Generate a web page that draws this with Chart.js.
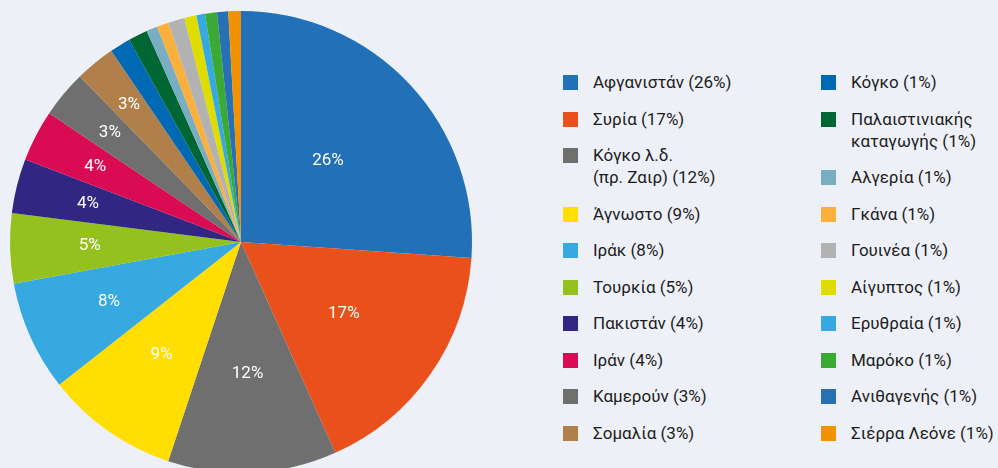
<!DOCTYPE html>
<html>
<head>
<meta charset="utf-8">
<script src="https://cdn.jsdelivr.net/npm/chart.js@4.4.0/dist/chart.umd.min.js"></script>
<style>
  html, body { margin: 0; padding: 0; background: #eef0f8; overflow: hidden; }
  body { width: 998px; height: 468px; position: relative; font-family: Roboto, sans-serif; }
  #pieWrap { position: absolute; left: 0; top: 0; width: 482px; height: 484px; }
  .col { position: absolute; top: 71px; display: flex; flex-direction: column; gap: 14.5px; }
  .item { position: relative; padding-left: 30px; font-size: 17px; line-height: 22px; color: #1d1d1b; white-space: pre; }
  .item .box { position: absolute; left: 0; top: 4px; width: 15px; height: 15px; }
</style>
</head>
<body>
<div id="pieWrap"><canvas id="myChart"></canvas></div>
<div class="col" id="legend1" style="left:563px"></div>
<div class="col" id="legend2" style="left:821px"></div>
<script>
var countries = ['Αφγανιστάν', 'Συρία', 'Κόγκο λ.δ.\n(πρ. Ζαιρ)', 'Άγνωστο', 'Ιράκ', 'Τουρκία', 'Πακιστάν', 'Ιράν', 'Καμερούν', 'Σομαλία',
  'Κόγκο', 'Παλαιστινιακής\nκαταγωγής', 'Αλγερία', 'Γκάνα', 'Γουινέα', 'Αίγυπτος', 'Ερυθραία', 'Μαρόκο', 'Ανιθαγενής', 'Σιέρρα Λεόνε'];
var shares = [26.1, 17.2, 11.8, 9.3, 7.7, 4.9, 3.8, 3.6, 3.3, 2.8,
  1.45, 1.35, 0.78, 0.82, 1.15, 0.85, 0.6, 0.83, 0.78, 0.88];
var colors = ['#2270b8', '#e9501c', '#6f6f6f', '#ffde00', '#36a9e1', '#95c11f', '#312783', '#d90b52', '#6f6f6f', '#b07f4a',
  '#0069b4', '#006633', '#79adc1', '#fbb03b', '#b2b2b2', '#dedc00', '#36a9e1', '#3aaa35', '#2870b4', '#f39200'];

// legend (two columns of ten)
countries.forEach(function(name, i) {
  var el = document.createElement('div');
  el.className = 'item';
  el.innerHTML = '<span class="box" style="background:' + colors[i] + '"></span>';
  el.appendChild(document.createTextNode(name + ' (' + Math.round(shares[i]) + '%)'));
  document.getElementById(i < 10 ? 'legend1' : 'legend2').appendChild(el);
});

// percentage labels inside the bigger slices
var sliceLabels = {
  id: 'sliceLabels',
  afterDatasetsDraw: function(chart) {
    var ctx = chart.ctx;
    var meta = chart.getDatasetMeta(0);
    ctx.save();
    ctx.fillStyle = '#ffffff';
    ctx.font = '17px Roboto, sans-serif';
    ctx.textAlign = 'center';
    ctx.textBaseline = 'middle';
    meta.data.forEach(function(arc, i) {
      if (shares[i] < 2) return;
      var mid = (arc.startAngle + arc.endAngle) / 2;
      var r = arc.outerRadius * (0.515 + 0.028 * i);
      ctx.fillText(Math.round(shares[i]) + '%', arc.x + Math.cos(mid) * r, arc.y + Math.sin(mid) * r);
    });
    ctx.restore();
  }
};

var ctx = document.getElementById('myChart');
var myChart = new Chart(ctx, {
  type: 'pie',
  data: {
    labels: countries,
    datasets: [{
      data: shares,
      backgroundColor: colors,
      borderWidth: 0
    }]
  },
  options: {
    responsive: true,
    maintainAspectRatio: false,
    animation: false,
    layout: { padding: 10 },
    plugins: {
      legend: { display: false },
      tooltip: { enabled: false }
    }
  },
  plugins: [sliceLabels]
});
</script>
</body>
</html>
